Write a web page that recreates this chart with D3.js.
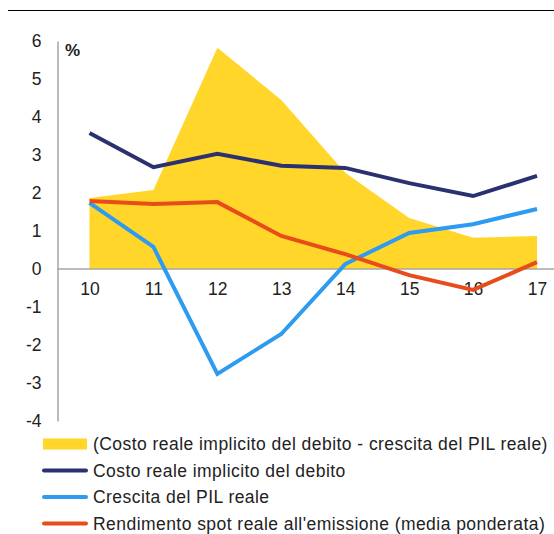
<!DOCTYPE html>
<html><head><meta charset="utf-8">
<script src="https://cdn.jsdelivr.net/npm/d3@7"></script>
<style>
html,body{margin:0;padding:0;background:#fff;}
svg{display:block;font-family:"Liberation Sans",Arial,sans-serif;}
</style></head>
<body>
<svg id="c" width="554" height="534"></svg>
<script>
const categories = ["10","11","12","13","14","15","16","17"];
const gapValues = [1.87, 2.08, 5.82, 4.45, 2.53, 1.34, 0.82, 0.87];
const costValues = [3.58, 2.68, 3.03, 2.72, 2.66, 2.26, 1.92, 2.45];
const growthValues = [1.74, 0.58, -2.76, -1.71, 0.13, 0.95, 1.18, 1.58];
const yieldValues = [1.79, 1.71, 1.76, 0.87, 0.39, -0.16, -0.55, 0.18];
const yTicks = [6,5,4,3,2,1,0,-1,-2,-3,-4];
const legendLabels = [
  "(Costo reale implicito del debito - crescita del PIL reale)",
  "Costo reale implicito del debito",
  "Crescita del PIL reale",
  "Rendimento spot reale all'emissione (media ponderata)"
];
const colors = {gap:"#FFD629", cost:"#2B3070", growth:"#2D9BF0", yld:"#E84C1A"};

const svg = d3.select("#c");
const x = d3.scalePoint().domain(categories).range([89.5, 537]);
const y = d3.scaleLinear().domain([-4, 6]).range([421, 41]);

// top rule
svg.append("line").attr("x1",8).attr("x2",554).attr("y1",10.5).attr("y2",10.5)
  .attr("stroke","#000").attr("stroke-width",1);

// area
const area = d3.area().x((d,i)=>x(categories[i])).y0(y(0)).y1(d=>y(d));
svg.append("path").datum(gapValues).attr("d",area).attr("fill",colors.gap);

// axes
const yAxis = d3.axisLeft(y).tickValues(yTicks).tickSize(0).tickPadding(16).tickFormat(d => String(d));
const gy = svg.append("g").attr("transform","translate(57.5,0)").call(yAxis);
gy.select(".domain").attr("stroke","#a6a6a6").attr("stroke-width",1.5);
gy.selectAll("text").attr("font-size",17.5).attr("fill","#222").attr("font-family","Liberation Sans, Arial, sans-serif");

const xAxis = d3.axisBottom(x).tickSize(0).tickPadding(14);
const gx = svg.append("g").attr("transform",`translate(0,${y(0)})`).call(xAxis);
gx.select(".domain").remove();
gx.append("line").attr("x1",57).attr("x2",554).attr("y1",0).attr("y2",0)
  .attr("stroke","#a6a6a6").attr("stroke-width",1.5);
gx.selectAll("text").attr("font-size",17.5).attr("fill","#222").attr("font-family","Liberation Sans, Arial, sans-serif");

svg.append("text").attr("x",65).attr("y",56).attr("font-size",17).attr("font-weight","bold")
  .attr("fill","#222").text("%");

// lines
const line = d3.line().x((d,i)=>x(categories[i])).y(d=>y(d));
[[costValues,colors.cost],[growthValues,colors.growth],[yieldValues,colors.yld]].forEach(([vals,c])=>{
  svg.append("path").datum(vals).attr("d",line).attr("fill","none").attr("stroke",c)
    .attr("stroke-width",4).attr("stroke-linejoin","miter");
});

// legend
const rowY = [444, 470.5, 497, 523.5];
const legColors = [colors.gap, colors.cost, colors.growth, colors.yld];
legendLabels.forEach((lab,i)=>{
  if(i===0){
    svg.append("rect").attr("x",43).attr("y",rowY[i]-5.5).attr("width",44).attr("height",11).attr("fill",legColors[i]);
  } else {
    svg.append("line").attr("x1",44).attr("x2",86).attr("y1",rowY[i]).attr("y2",rowY[i])
      .attr("stroke",legColors[i]).attr("stroke-width",4).attr("stroke-linecap","round");
  }
  svg.append("text").attr("x",93).attr("y",rowY[i]).attr("dy","0.35em")
    .attr("font-size",17.5).attr("letter-spacing",0.45).attr("fill","#222").text(lab);
});
</script>
</body></html>
